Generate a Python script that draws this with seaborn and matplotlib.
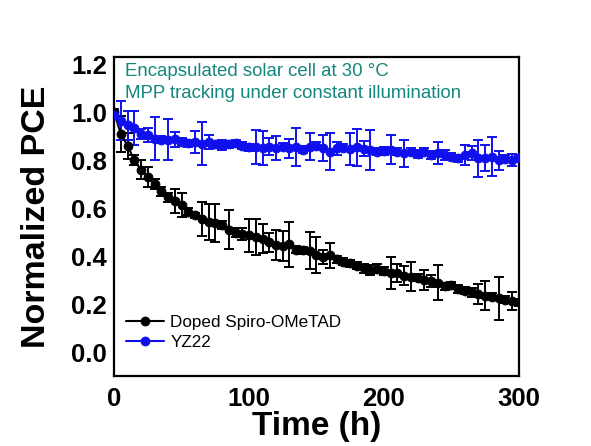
import numpy as np
import pandas as pd
import matplotlib
matplotlib.use("Agg")
import matplotlib.pyplot as plt
from matplotlib.ticker import MultipleLocator
import seaborn as sns

time_h = [0, 5, 10, 15, 20, 25, 30, 35, 40, 45, 50, 55, 60, 65, 70, 75, 80, 85, 90, 95,
          100, 105, 110, 115, 120, 125, 130, 135, 140, 145, 150, 155, 160, 165, 170, 175,
          180, 185, 190, 195, 200, 205, 210, 215, 220, 225, 230, 235, 240, 245, 250, 255,
          260, 265, 270, 275, 280, 285, 290, 295, 300]

spiro_pce = [1.00, 0.91, 0.86, 0.80, 0.76, 0.73, 0.70, 0.67, 0.645, 0.63, 0.615, 0.585,
             0.57, 0.555, 0.543, 0.538, 0.53, 0.51, 0.498, 0.493, 0.486, 0.48, 0.472,
             0.458, 0.445, 0.441, 0.449, 0.426, 0.424, 0.422, 0.405, 0.396, 0.403, 0.387,
             0.376, 0.37, 0.36, 0.349, 0.343, 0.348, 0.338, 0.329, 0.331, 0.318, 0.314,
             0.31, 0.30, 0.296, 0.289, 0.274, 0.278, 0.263, 0.256, 0.249, 0.242, 0.235,
             0.231, 0.224, 0.218, 0.213, 0.208]
spiro_err = [0.015, 0.075, 0.055, 0.02, 0.04, 0.04, 0.02, 0.02, 0.02, 0.05, 0.05, 0.015,
             0.01, 0.07, 0.075, 0.078, 0.015, 0.082, 0.02, 0.025, 0.07, 0.076, 0.06, 0.04,
             0.062, 0.062, 0.093, 0.015, 0.015, 0.077, 0.076, 0.03, 0.052, 0.015, 0.015,
             0.015, 0.015, 0.02, 0.02, 0.02, 0.015, 0.068, 0.037, 0.04, 0.06, 0.015, 0.04,
             0.025, 0.073, 0.015, 0.015, 0.015, 0.015, 0.02, 0.04, 0.06, 0.015, 0.09,
             0.015, 0.038, 0.015]

yz22_pce = [0.99, 0.965, 0.945, 0.935, 0.91, 0.905, 0.89, 0.885, 0.885, 0.887, 0.877,
            0.871, 0.877, 0.868, 0.877, 0.866, 0.864, 0.866, 0.87, 0.86, 0.854, 0.855,
            0.85, 0.857, 0.852, 0.857, 0.85, 0.855, 0.843, 0.857, 0.86, 0.85, 0.836, 0.85,
            0.852, 0.848, 0.854, 0.848, 0.843, 0.836, 0.838, 0.843, 0.836, 0.829, 0.836,
            0.826, 0.836, 0.822, 0.829, 0.822, 0.815, 0.808, 0.822, 0.829, 0.808, 0.81,
            0.815, 0.799, 0.806, 0.801, 0.808]
yz22_err = [0.02, 0.08, 0.06, 0.07, 0.02, 0.03, 0.09, 0.015, 0.085, 0.03, 0.015, 0.015,
            0.045, 0.09, 0.03, 0.015, 0.02, 0.015, 0.015, 0.015, 0.015, 0.07, 0.07, 0.035,
            0.05, 0.015, 0.04, 0.078, 0.015, 0.055, 0.015, 0.055, 0.077, 0.027, 0.015,
            0.067, 0.078, 0.03, 0.083, 0.015, 0.015, 0.06, 0.015, 0.057, 0.015, 0.015,
            0.015, 0.015, 0.045, 0.02, 0.015, 0.015, 0.04, 0.03, 0.078, 0.055, 0.08, 0.04,
            0.015, 0.025, 0.015]

x_ticks = [0, 100, 200, 300]
y_ticks = [0.0, 0.2, 0.4, 0.6, 0.8, 1.0, 1.2]

sns.set_style("white")
plt.rcParams['font.family'] = ['Liberation Sans', 'DejaVu Sans']

fig = plt.figure(figsize=(5.91, 4.46), dpi=100)
ax = fig.add_axes([0.193, 0.157, 0.685, 0.715])

black = '#000000'
blue = '#1010EE'

for yv, ev, col, lab in [(spiro_pce, spiro_err, black, 'Doped Spiro-OMeTAD'),
                         (yz22_pce, yz22_err, blue, 'YZ22')]:
    ax.errorbar(time_h, yv, yerr=ev, fmt='none', ecolor=col, elinewidth=1.4,
                capsize=3.5, capthick=1.4, zorder=2)
    sns.lineplot(x=time_h, y=yv, ax=ax, color=col, marker='o', markersize=6.3,
                 markeredgecolor=col, linewidth=1.5, label=lab, zorder=3)

ax.set_xlim(0, 300)
ax.set_ylim(-0.1, 1.23)
ax.set_xticks(x_ticks)
ax.set_yticks(y_ticks)
ax.set_xticklabels([str(v) for v in x_ticks])
ax.set_yticklabels([f"{v:.1f}" for v in y_ticks])
ax.xaxis.set_minor_locator(MultipleLocator(50))
ax.yaxis.set_minor_locator(MultipleLocator(0.1))
ax.tick_params(which='major', direction='in', length=5, width=1.3, labelsize=18.5,
               pad=5, colors='black')
ax.tick_params(axis='x', which='major', pad=8)
ax.tick_params(which='minor', direction='in', length=3, width=1.2)
for lbl in ax.get_xticklabels() + ax.get_yticklabels():
    lbl.set_fontweight('bold')
for sp in ax.spines.values():
    sp.set_linewidth(1.6)
    sp.set_color('black')

ax.set_xlabel('Time (h)', fontsize=24, fontweight='bold', labelpad=0, color='black')
ax.set_ylabel('Normalized PCE', fontsize=24.5, fontweight='bold', labelpad=14, color='black')

teal = '#13877D'
ax.text(0.027, 0.942, 'Encapsulated solar cell at 30 °C', transform=ax.transAxes,
        fontsize=13.4, color=teal, va='baseline')
ax.text(0.027, 0.872, 'MPP tracking under constant illumination', transform=ax.transAxes,
        fontsize=13.4, color=teal, va='baseline')

leg = ax.legend(loc='lower left', bbox_to_anchor=(0.0, 0.045), frameon=False, fontsize=12.3,
                handlelength=2.2, handletextpad=0.4, labelspacing=0.25, borderaxespad=0.3)
for t in leg.get_texts():
    t.set_color('black')

fig.savefig('out.png', dpi=100)
